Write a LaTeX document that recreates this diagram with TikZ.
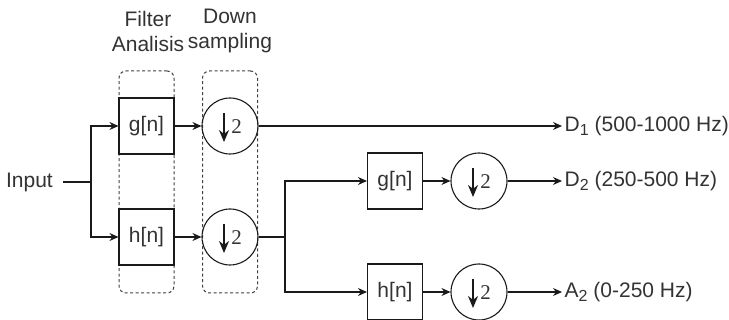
\documentclass[tikz,border=0pt]{standalone}
\usepackage{fontspec}
\setmainfont{Liberation Sans}
\newfontfamily\numfont{Liberation Serif}
\usetikzlibrary{arrows.meta}
\definecolor{txt}{HTML}{333333}
\definecolor{ln}{HTML}{1A1A1A}
\newcommand\dsnode[3]{%
  \node[dsc] (#1) at (#2,#3) {};
  \draw[ln, line width=1.6pt, -{Stealth[length=12pt,width=10pt]}] ([xshift=-6pt,yshift=13pt]#1.center) -- ([xshift=-6pt,yshift=-16pt]#1.center);
  \node[text=txt, inner sep=0pt, font=\numfont\fontsize{21}{21}\selectfont] at ([xshift=6.5pt,yshift=-1pt]#1.center) {2};
}
\newcommand\sub[1]{\raisebox{-4pt}{\fontsize{16}{16}\selectfont #1}}
\begin{document}
\begin{tikzpicture}[x=1pt,y=-1pt,
  every node/.style={font=\fontsize{21}{25}\selectfont, text=txt},
  wire/.style={draw=ln, line width=1.2pt},
  arr/.style={wire, -{Stealth[length=9pt,width=8pt]}},
  filt/.style={draw=ln, line width=1.1pt, minimum width=55pt, minimum height=56pt, inner sep=0pt},
  dsc/.style={circle, draw=ln, line width=1.1pt, minimum size=56pt, inner sep=0pt},
  grp/.style={draw=black!75, dashed, dash pattern=on 3pt off 2.5pt, line width=1pt, rounded corners=7pt, minimum width=55pt, minimum height=222pt, inner sep=0pt},
  lab/.style={align=center, inner sep=0pt}
]
\useasboundingbox (0,0) rectangle (729,320);
% group boxes
\node[grp] (grpA) at (146.5,182) {};
\node[grp] (grpB) at (230,182) {};
\node[lab] (labA) at (148,31) {Filter\\Analisis};
\node[lab] (labB) at (230,31) {Down\\sampling};
% input
\node[inner sep=0pt, anchor=east] (in) at (53,182) {Input};
\coordinate (j1) at (91,182);
% stage 1
\node[filt] (g1) at (146.5,126) {g[n]};
\node[filt] (h1) at (146.5,237) {h[n]};
\dsnode{c1}{230}{126}
\dsnode{c2}{230}{237}
% stage 2
\coordinate (j2) at (285,237);
\node[filt] (g2) at (395,181) {g[n]};
\node[filt] (h2) at (395,292) {h[n]};
\dsnode{c3}{479}{181}
\dsnode{c4}{479}{292}
% outputs
\node[anchor=west, inner xsep=2.5pt, inner ysep=0pt] (d1) at (562,126) {D\sub{1} (500-1000 Hz)};
\node[anchor=west, inner xsep=2.5pt, inner ysep=0pt] (d2) at (562,181) {D\sub{2} (250-500 Hz)};
\node[anchor=west, inner xsep=2.5pt, inner ysep=0pt] (a2) at (562,292) {A\sub{2} (0-250 Hz)};
% connectors
\draw[wire] ([xshift=10pt]in.east) -- (j1);
\draw[arr] (j1) |- (g1.west);
\draw[arr] (j1) |- (h1.west);
\draw[arr] (g1) -- (c1);
\draw[arr] (h1) -- (c2);
\draw[arr] (c1) -- (d1.west);
\draw[wire] (c2.east) -- (j2);
\draw[arr] (j2) |- (g2.west);
\draw[arr] (j2) |- (h2.west);
\draw[arr] (g2) -- (c3);
\draw[arr] (h2) -- (c4);
\draw[arr] (c3) -- (d2.west);
\draw[arr] (c4) -- (a2.west);
\end{tikzpicture}
\end{document}
